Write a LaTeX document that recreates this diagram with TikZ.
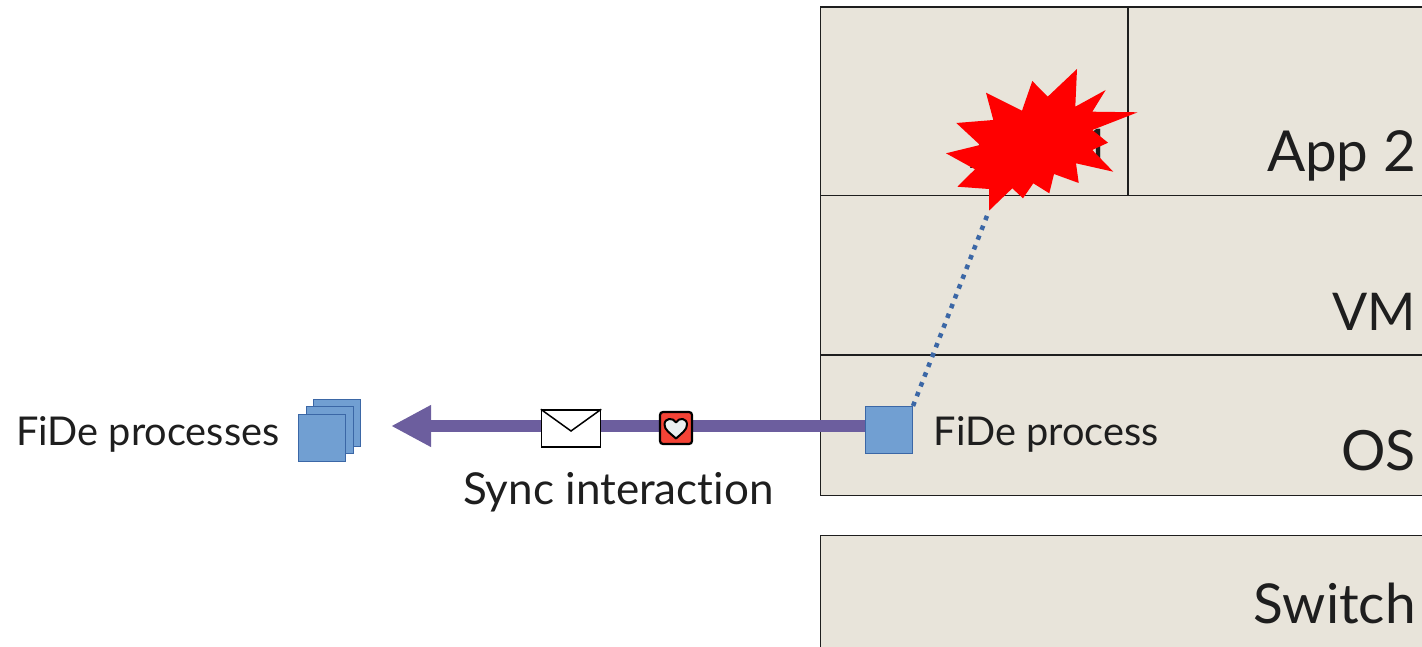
\documentclass[tikz,border=0pt]{standalone}
\usepackage{fontspec}
\setmainfont{Lato}[Ligatures=NoCommon]
\newfontfamily\stemfont{Open Sans}
\usetikzlibrary{arrows.meta}
\definecolor{boxfill}{HTML}{E8E4DA}
\definecolor{ink}{HTML}{1E1E1E}
\definecolor{fidefill}{HTML}{719FD2}
\definecolor{fideline}{HTML}{3B67A6}
\definecolor{syncline}{HTML}{6C5E9E}
\definecolor{heartred}{HTML}{F44336}
\definecolor{heartwhite}{HTML}{ECEFF1}
\tikzset{
  layerbox/.style={draw=ink,line width=1.1pt,fill=boxfill},
  biglabel/.style={anchor=base east,text=ink,font=\fontsize{56.5}{60}\selectfont,inner sep=0pt},
  smalllabel/.style={anchor=base west,text=ink,font=\fontsize{39.7}{44}\selectfont,inner sep=0pt},
  fidesquare/.style={draw=fideline,line width=1pt,fill=fidefill,minimum size=47pt,inner sep=0pt,anchor=north west},
}
\begin{document}
\begin{tikzpicture}[x=1pt,y=-1pt]
\useasboundingbox (0,0) rectangle (1422,647);
% layers
\draw[layerbox] (820.7,7) rectangle (1423,195.4);
\draw[layerbox] (1128,7) -- (1128,195.4);
\draw[layerbox] (820.7,195.4) rectangle (1423,355);
\draw[layerbox] (820.7,355) rectangle (1423,495.5);
\draw[layerbox] (820.7,535.5) rectangle (1423,648);
\node[biglabel,font=\stemfont\fontsize{55}{60}\selectfont] (app1) at (1113,169) {App\hspace{-6pt} 1};
\node[biglabel] (app2) at (1416,172) {App 2};
\node[biglabel,font=\fontsize{52}{60}\selectfont] (vm) at (1416,330) {VM};
\node[biglabel,font=\fontsize{55.5}{60}\selectfont] (os) at (1416,470) {OS};
\node[biglabel,font=\fontsize{55}{60}\selectfont] (switch) at (1416,623) {Switch};
% FiDe process
\node[fidesquare] (fp) at (865,406) {};
\node[smalllabel] (fplabel) at (933.5,445) {FiDe process};
% stack
\node[fidesquare] (s3) at (313,399) {};
\node[fidesquare] (s2) at (305.5,406) {};
\node[fidesquare] (s1) at (298,413.5) {};
\node[smalllabel] (splabel) at (16,445) {FiDe processes};
% burst tip + dotted link
\coordinate (bursttip) at (989,210.7);
\draw[fideline,line width=4.5pt,dash pattern=on 4.5pt off 6pt] (fp.north east) -- (bursttip);
\fill[red] (989,210.7) -- (1012.3,188.3) -- (1023,198.3) -- (1033.3,183.3) -- (1049.3,193.3)
  -- (1054,174) -- (1078.7,183) -- (1076,163.3) -- (1113.3,171.7) -- (1092.3,150)
  -- (1108,142.7) -- (1092.3,130) -- (1137.7,112.3) -- (1092.3,111.7) -- (1105.7,90)
  -- (1075.3,106.7) -- (1077,69) -- (1047.7,96.7) -- (1032.3,81) -- (1022,110.7)
  -- (986,92.7) -- (993.3,120) -- (956.3,123) -- (980,145) -- (946,153.3)
  -- (975,169.3) -- (957.3,186.7) -- (989,189) -- cycle;
% sync arrow
\coordinate (synctip) at (391,426);
\draw[syncline,line width=12pt,-{Triangle[length=40pt,width=39pt]}] (fp.west |- 0,426) -- (synctip);
% envelope
\node[draw=black,line width=1.5pt,fill=white,minimum width=59pt,minimum height=37pt,inner sep=0pt] (mail) at (571,428.5) {};
\draw[black,line width=1.5pt] (mail.north west) -- (571,431) -- (mail.north east);
% heart badge
\node[draw=black,line width=2.2pt,fill=heartred,rounded corners=3pt,minimum size=32pt,inner sep=0pt] (badge) at (676,428) {};
\draw[black,line width=2pt,fill=heartwhite,line join=round]
  (676,438.5) .. controls (670,433) and (664.5,430) .. (664.5,424.5)
  .. controls (664.5,418) and (673,417) .. (676,422.5)
  .. controls (679,417) and (687,418) .. (687,424.5)
  .. controls (687,430) and (682,433) .. (676,438.5) -- cycle;
\node[smalllabel,font=\fontsize{44}{48}\selectfont] (synclabel) at (463,504) {Sync interaction};
\end{tikzpicture}
\end{document}
